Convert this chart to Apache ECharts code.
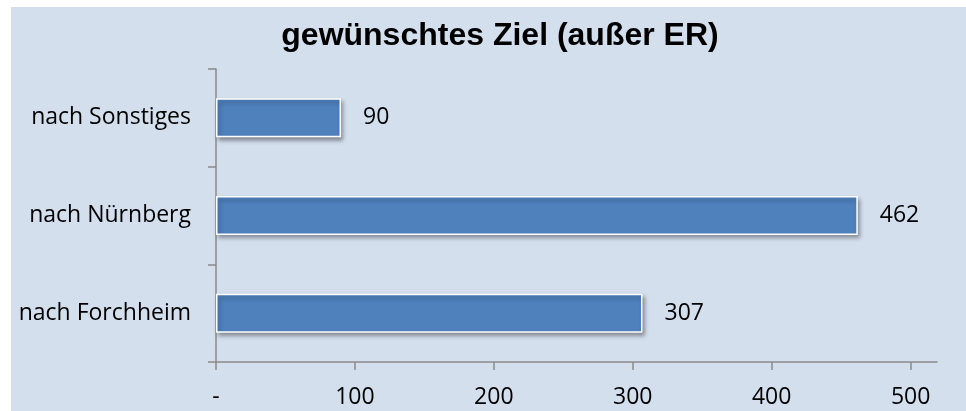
<!DOCTYPE html>
<html>
<head>
<meta charset="utf-8">
<script src="https://cdn.jsdelivr.net/npm/echarts@6/dist/echarts.min.js"></script>
<style>
  html, body { margin: 0; padding: 0; background: #fff; }
  #main { position: absolute; left: 11px; top: 7px; width: 955px; height: 404px; }
</style>
</head>
<body>
<div id="main"></div>
<script>
// Daten (von unten nach oben)
const categories = ["nach Forchheim", "nach Nürnberg", "nach Sonstiges"];
const values = [307, 462, 90];
const xTicks = [0, 100, 200, 300, 400, 500];

const chart = echarts.init(document.getElementById("main"));

const axisGray = "#8a8a8a";
const labelFont = "'Open Sans', 'Noto Sans', sans-serif";

const option = {
  backgroundColor: "#d4dfee",
  animation: false,
  graphic: [
    {
      type: "text",
      x: 489, // Titel mittig über dem Diagramm
      y: 29,
      style: {
        text: "gewünschtes Ziel (außer ER)",
        font: "bold 32px 'Liberation Sans', Arial, sans-serif",
        fill: "#000",
        align: "center",
        verticalAlign: "middle",
      },
    },
  ],
  grid: {
    left: 205,
    right: 29,
    top: 62,
    bottom: 49,
  },
  xAxis: {
    type: "value",
    min: 0,
    max: 519,
    axisLine: { show: true, lineStyle: { color: axisGray, width: 1.5 } },
    axisTick: {
      show: true,
      length: 8,
      customValues: xTicks,
      lineStyle: { color: axisGray, width: 1.5 },
    },
    axisLabel: {
      customValues: xTicks,
      margin: 24,
      fontSize: 23,
      fontFamily: labelFont,
      color: "#000",
      formatter: function (v) {
        return v === 0 ? "-" : String(v);
      },
    },
    splitLine: { show: false },
  },
  yAxis: {
    type: "category",
    data: categories,
    axisLine: { show: true, lineStyle: { color: axisGray, width: 1.5 } },
    axisTick: { show: true, length: 8, lineStyle: { color: axisGray, width: 1.5 } },
    axisLabel: {
      margin: 25,
      fontSize: 23,
      fontFamily: labelFont,
      color: "#000",
    },
  },
  series: [
    {
      type: "bar",
      data: values,
      barWidth: 39,
      itemStyle: {
        color: "#4f81bd",
        borderColor: "#ffffff",
        borderWidth: 1.5,
        shadowColor: "rgba(0,0,0,0.35)",
        shadowBlur: 4,
        shadowOffsetX: 2,
        shadowOffsetY: 3,
      },
      label: {
        show: true,
        position: "right",
        distance: 22,
        fontSize: 23,
        fontFamily: labelFont,
        color: "#000",
      },
    },
  ],
};

chart.setOption(option);
</script>
</body>
</html>
